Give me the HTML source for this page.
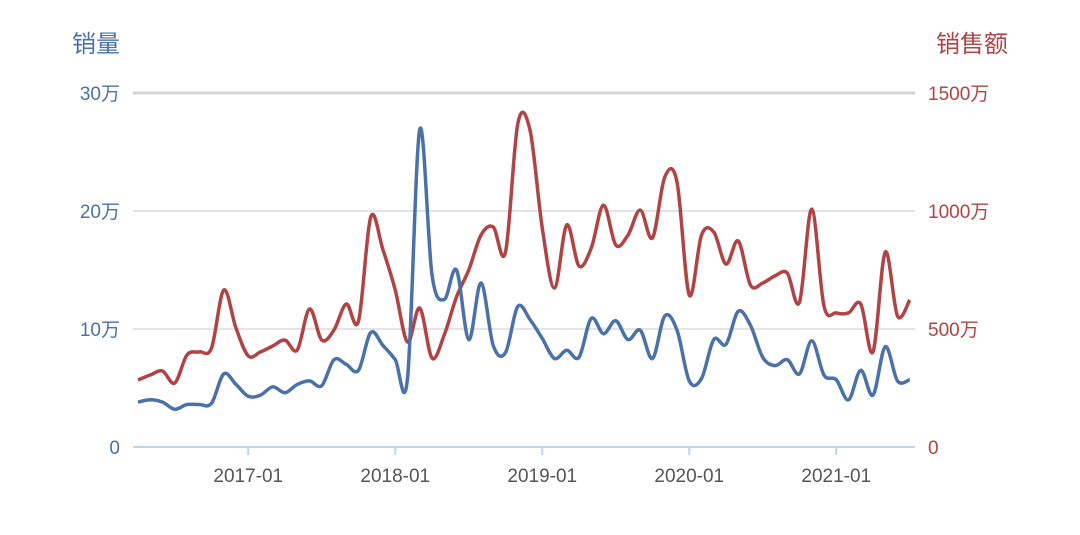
<!DOCTYPE html>
<html><head><meta charset="utf-8"><style>
body{margin:0;background:#fff;width:1080px;height:530px;overflow:hidden}
text{font-family:"Liberation Sans","Noto Sans CJK SC",sans-serif}
</style></head><body>
<svg id="c" width="1080" height="530">
<text x="72" y="52" font-size="24" fill="#4a72a8">销量</text>
<text x="1008" y="52" font-size="24" fill="#b04444" text-anchor="end">销售额</text>
<g id="grid"></g><g id="axes"></g><g id="series"></g>
</svg>
<script>
const months=[];for(let y=2016,m=4;months.length<64;){months.push(y+'-'+String(m).padStart(2,'0'));m++;if(m>12){m=1;y++;}}
const xTicks=['2017-01','2018-01','2019-01','2020-01','2021-01'];
const leftTicks=[0,10,20,30];
const rightTicks=[0,500,1000,1500];
const volume=[3.8,4.0,3.8,3.2,3.6,3.6,3.7,6.2,5.3,4.3,4.4,5.1,4.6,5.3,5.6,5.2,7.4,7.0,6.5,9.7,8.6,7.4,5.8,26.9,14.6,12.5,15.0,9.1,13.9,8.6,8.0,11.9,10.8,9.2,7.5,8.2,7.6,10.9,9.6,10.7,9.1,9.9,7.5,11.1,9.9,5.6,5.8,9.1,8.7,11.5,10.3,7.6,6.9,7.4,6.2,9.0,6.1,5.7,4.0,6.5,4.4,8.5,5.6,5.7];
const revenue=[284,305,322,271,390,403,419,665,504,386,403,428,453,411,585,453,496,606,534,975,835,665,445,589,377,475,636,750,898,932,826,1369,1343,928,674,941,767,843,1025,856,898,1004,886,1144,1123,644,898,911,775,873,686,695,725,737,614,1008,597,568,568,606,403,826,555,623];
const X0=138,DX=12.25,Y0=447,Y1=93,L=133,R=915;
const x=i=>X0+DX*i;
const yl=v=>Y0-(v/30)*(Y0-Y1);
const yr=v=>Y0-(v/1500)*(Y0-Y1);
const NS='http://www.w3.org/2000/svg';
function mk(t,a,p){const e=document.createElementNS(NS,t);for(const k in a)e.setAttribute(k,a[k]);p.appendChild(e);return e;}
const grid=document.getElementById('grid'),axes=document.getElementById('axes'),ser=document.getElementById('series');
leftTicks.forEach((v,i)=>{
 const y=yl(v);
 if(v>0){const g=mk('line',{x1:L,x2:R,y1:y,y2:y,stroke:v==30?'#d6d6d6':'#dcdcdc','stroke-width':v==30?3:1.5},grid);
 
 }
 const t=mk('text',{x:120,y:y+7,'font-size':19,fill:'#4a72a8','text-anchor':'end'},axes);
 t.textContent=v==0?'0':v+'万';
 
 
});
rightTicks.forEach(v=>{
 const t=mk('text',{x:928,y:yr(v)+7,'font-size':19,fill:'#b04444'},axes);
 t.textContent=v==0?'0':v+'万';
 
 
});
const ax=mk('line',{x1:L,x2:R,y1:Y0,y2:Y0,stroke:'#c5d3e6','stroke-width':2},axes);


xTicks.forEach(s=>{
 const i=months.indexOf(s),xx=x(i);
 const tk=mk('line',{x1:xx,x2:xx,y1:Y0,y2:Y0+8,stroke:'#c5d3e6','stroke-width':2},axes);
 
 
 const t=mk('text',{x:xx,y:482,'font-size':19,fill:'#555','text-anchor':'middle'},axes);
 t.textContent=s;
 
 
});
function path(vals,fy){
 const p=vals.map((v,i)=>[x(i),fy(v)]);
 let d='M'+p[0][0]+','+p[0][1];
 for(let i=0;i<p.length-1;i++){
  const a=p[i-1]||p[i],b=p[i],c=p[i+1],e=p[i+2]||c;
  d+=' C'+(b[0]+(c[0]-a[0])/6)+','+(b[1]+(c[1]-a[1])/6)+' '+(c[0]-(e[0]-b[0])/6)+','+(c[1]-(e[1]-b[1])/6)+' '+c[0]+','+c[1];
 }
 return d;
}
const pr=mk('path',{d:path(revenue,yr),fill:'none',stroke:'#b04444','stroke-width':3.5,'stroke-linejoin':'round'},ser);


const pv=mk('path',{d:path(volume,yl),fill:'none',stroke:'#4a72a8','stroke-width':3.5,'stroke-linejoin':'round'},ser);


</script>
</body></html>
